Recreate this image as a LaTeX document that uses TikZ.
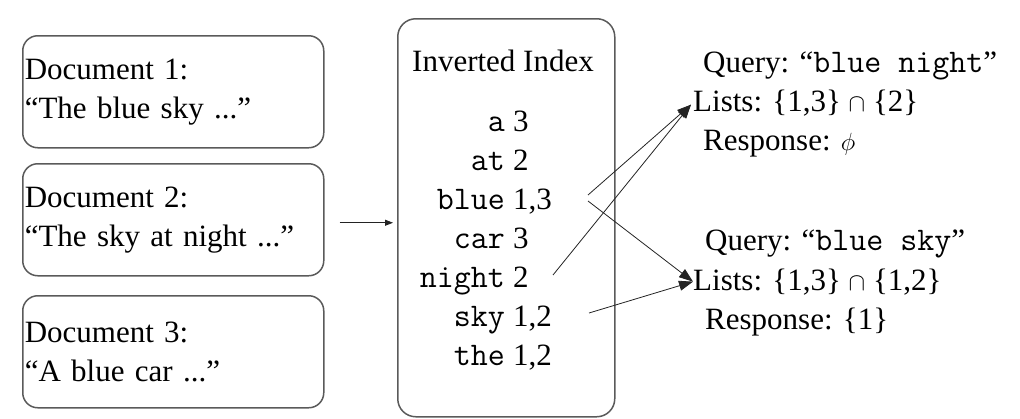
\documentclass[tikz,border=0pt]{standalone}
\usepackage{fontspec}
\setmainfont{Liberation Serif}
\usetikzlibrary{arrows.meta}
\definecolor{boxgray}{RGB}{90,90,90}
\definecolor{linegray}{RGB}{35,35,35}
\newcommand{\idxtt}{\fontsize{33}{39}\ttfamily}
\begin{document}
\begin{tikzpicture}[x=1pt,y=-1pt,
  font=\fontsize{31}{39}\selectfont,
  docbox/.style={draw=boxgray, line width=1.5pt, rounded corners=15pt,
    minimum width=301pt, minimum height=112pt, text width=297pt,
    align=left, inner xsep=2pt, inner ysep=0pt, anchor=north west},
  idxbox/.style={draw=boxgray, line width=1.5pt, rounded corners=18pt,
    minimum width=217pt, minimum height=398pt, anchor=north west, inner sep=0pt},
  txt/.style={inner sep=0pt},
  conn/.style={draw=linegray, line width=0.8pt, -{Triangle[length=14pt,width=10pt]}},
  small/.style={draw=linegray, line width=0.8pt, -{Triangle[length=8pt,width=6pt]}}
]
\useasboundingbox (0,0) rectangle (1020,418);

% documents
\node[docbox] (d1) at (22,35)  {Document 1:\\“The blue sky ...”};
\node[docbox] (d2) at (22,163) {Document 2:\\“The sky at night ...”};
\node[docbox] (d3) at (22,295) {Document 3:\\“A blue car ...”};

% inverted index
\node[idxbox] (idx) at (397,18) {};
\node[txt, anchor=base] (title) at (503,71) {Inverted Index};
\foreach \w/\n/\y [count=\i] in {a/3/131, at/2/170, blue/{1,3}/209, car/3/248,
    night/2/287, sky/{1,2}/326, the/{1,2}/365}{
  \node[txt, anchor=base east, font=\idxtt] (w\i) at (505,\y) {\w};
  \node[txt, anchor=base west] (n\i) at (513,\y) {\n};
}

% queries
\node[txt, anchor=base west] (q1) at (703,72)  {Query: “{\idxtt blue night}”};
\node[txt, anchor=base west] (l1) at (693,111) {Lists: \{1,3\} $\cap$ \{2\}};
\node[txt, anchor=base west] (r1) at (703,150) {Response: $\phi$};
\node[txt, anchor=base west] (q2) at (705,250) {Query: “{\idxtt blue sky}”};
\node[txt, anchor=base west] (l2) at (693,290) {Lists: \{1,3\} $\cap$ \{1,2\}};
\node[txt, anchor=base west] (r2) at (705,329) {Response: \{1\}};

% connector start points
\coordinate (b1) at (588,195);
\coordinate (b2) at (588,201);
\coordinate (ng) at (553,275);
\coordinate (sk) at (589,313);
\coordinate (t1) at ([xshift=-2pt,yshift=-2pt]l1.west);
\coordinate (t2) at ([xshift=0pt]l2.west);

\draw[conn] (b1) -- (t1);
\draw[conn] (ng) -- (t1);
\draw[conn] (b2) -- (t2);
\draw[conn] (sk) -- (t2);

% documents -> index
\coordinate (a1) at ([xshift=15pt,yshift=-3pt]d2.east);
\draw[small] (a1) -- ([xshift=-4pt]idx.west |- a1);
\end{tikzpicture}
\end{document}
